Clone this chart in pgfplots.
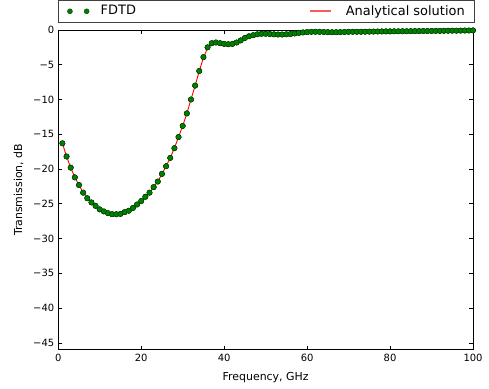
\documentclass[border=0pt]{standalone}
\usepackage{fontspec}
\setmainfont{DejaVu Sans}
\usepackage{pgfplots}
\usepackage{pgfplotstable}
\pgfplotsset{compat=1.18}
\definecolor{mgreen}{rgb}{0,0.5,0}
\definecolor{mgreenedge}{rgb}{0,0.2,0}
\definecolor{lred}{rgb}{1,0.35,0.35}
\pgfplotsset{
  dotslegend/.style={legend image code/.code={\draw[##1, mark size=2.5bp] plot coordinates {(0bp,0bp) (16.7bp,0bp)};}},
  redlegend/.style={legend image code/.code={\fill[lred] (0bp,-0.6bp) rectangle (20bp,0.6bp);}},
}
\pgfplotstableread{
x f a
1 -16.3 -16.3
2 -18.2 -18.2
3 -19.8 -19.8
4 -21.2 -21.2
5 -22.3 -22.3
6 -23.4 -23.4
7 -24.2 -24.2
8 -24.8 -24.8
9 -25.3 -25.3
10 -25.8 -25.8
11 -26.1 -26.1
12 -26.35 -26.35
13 -26.5 -26.5
14 -26.5 -26.5
15 -26.45 -26.45
16 -26.2 -26.2
17 -26.0 -26.0
18 -25.6 -25.6
19 -25.1 -25.1
20 -24.6 -24.6
21 -24.0 -24.0
22 -23.4 -23.4
23 -22.6 -22.6
24 -21.8 -21.8
25 -20.7 -20.7
26 -19.6 -19.6
27 -18.4 -18.4
28 -17.0 -17.0
29 -15.4 -15.4
30 -13.8 -13.8
31 -12.0 -12.0
32 -10.0 -10.0
33 -8.0 -8.0
34 -5.9 -5.9
35 -3.9 -4.0
36 -2.5 -2.6
37 -1.9 -2.1
38 -1.8 -2.05
39 -1.9 -2.15
40 -2.0 -2.25
41 -2.05 -2.3
42 -2.0 -2.25
43 -1.8 -2.05
44 -1.5 -1.75
45 -1.15 -1.4
46 -0.9 -1.1
47 -0.75 -0.95
48 -0.62 -0.82
49 -0.55 -0.75
50 -0.55 -0.75
51 -0.58 -0.78
52 -0.62 -0.82
53 -0.65 -0.85
54 -0.65 -0.85
55 -0.62 -0.82
56 -0.58 -0.78
57 -0.5 -0.7
58 -0.42 -0.62
59 -0.35 -0.55
60 -0.3 -0.5
61 -0.27 -0.45
62 -0.26 -0.44
63 -0.27 -0.45
64 -0.29 -0.47
65 -0.31 -0.49
66 -0.32 -0.5
67 -0.32 -0.5
68 -0.31 -0.49
69 -0.29 -0.47
70 -0.27 -0.45
71 -0.26 -0.43
72 -0.26 -0.42
73 -0.26 -0.42
74 -0.25 -0.41
75 -0.24 -0.4
76 -0.23 -0.39
77 -0.22 -0.38
78 -0.21 -0.37
79 -0.2 -0.36
80 -0.2 -0.35
81 -0.19 -0.34
82 -0.19 -0.33
83 -0.18 -0.32
84 -0.18 -0.31
85 -0.17 -0.3
86 -0.16 -0.29
87 -0.16 -0.28
88 -0.15 -0.27
89 -0.15 -0.26
90 -0.14 -0.25
91 -0.13 -0.24
92 -0.13 -0.23
93 -0.12 -0.22
94 -0.11 -0.21
95 -0.1 -0.2
96 -0.1 -0.19
97 -0.09 -0.18
98 -0.08 -0.17
99 -0.07 -0.16
100 -0.06 -0.15
}\datatable
\begin{document}
\begin{tikzpicture}
\begin{axis}[
  scale only axis,
  width=415bp, height=320bp,
  xmin=0, xmax=100, ymin=-46, ymax=0,
  axis line style={black, line width=0.9bp},
  tick align=inside,
  major tick length=4bp,
  tick style={black, line width=0.6bp},
  xtick={0,20,40,60,80,100},
  ytick={-45,-40,-35,-30,-25,-20,-15,-10,-5,0},
  yticklabels={−45,−40,−35,−30,−25,−20,−15,−10,−5,0},
  minor tick num=0,
  /pgf/number format/assume math mode=true,
  ticklabel style={font=\fontsize{10}{12}\selectfont},
  xticklabel style={yshift=-1bp},
  yticklabel style={xshift=-0.5bp},
  xlabel={Frequency, GHz},
  ylabel={Transmission, dB},
  label style={font=\fontsize{11}{13}\selectfont},
  xlabel style={yshift=-3.5bp},
  ylabel style={yshift=3bp},
  legend columns=2,
  legend cell align=left,
  legend style={
    at={(rel axis cs:0,1)}, anchor=south west, yshift=7.3bp,
    draw=black!75, fill=white,
    inner xsep=9bp, inner ysep=5.2bp,
    font=\fontsize{13}{15}\selectfont,
    nodes={inner sep=0pt, text depth=0.22em},
    /tikz/every odd column/.append style={column sep=11.6bp},
    /tikz/every even column/.append style={column sep=0bp},
  },
]
\coordinate (ll) at (rel axis cs:0,0);
\coordinate (ur) at (rel axis cs:1,1);
\addplot[only marks, mark=*, mark size=2.7bp,
  mark options={fill=mgreen, draw=mgreenedge, line width=0.4bp},
  dotslegend]
  table[x=x, y=f] {\datatable};
\addlegendentry{\makebox[209bp][l]{FDTD}}
\addplot[color=red, line width=0.9bp, mark=none, redlegend]
  table[x=x, y=a] {\datatable};
\addlegendentry{\makebox[122.7bp][r]{Analytical solution}}
\addplot[forget plot, only marks, mark=*, mark size=2.7bp,
  mark options={fill=mgreen, draw=mgreenedge, line width=0.4bp}]
  table[x=x, y=f] {\datatable};
\end{axis}
\pgfresetboundingbox
\path ([shift={(-58.3bp,-39bp)}]ll) rectangle ([shift={(16bp,30bp)}]ur);
\end{tikzpicture}
\end{document}
